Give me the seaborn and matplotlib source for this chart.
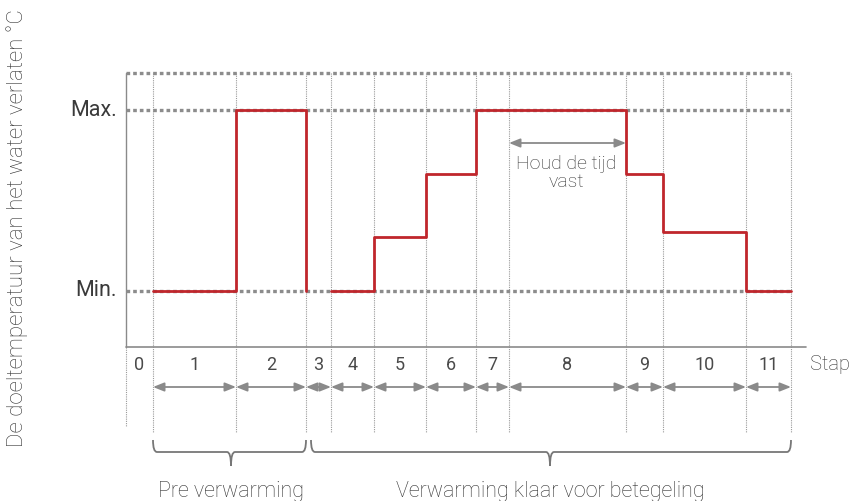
import numpy as np
import pandas as pd
import matplotlib
matplotlib.use("Agg")
import matplotlib.pyplot as plt
from matplotlib.path import Path
from matplotlib.patches import PathPatch
import seaborn as sns

# ---- data -------------------------------------------------------------
# step boundaries on a relative time axis (step 0 starts at 0)
step_edges = [0, 27, 110, 180, 205, 248, 300, 350, 383, 500, 537, 620, 665]
step_labels = ["0", "1", "2", "3", "4", "5", "6", "7", "8", "9", "10", "11"]

# target outlet water temperature per step, as a fraction between Min (0) and Max (1)
# step 3 has no set point; step 2 ends with a drop back to Min
preheat_t = [27, 110, 180]
preheat_level = [0.0, 1.0, 0.0]
ready_t = [205, 248, 300, 350, 383, 500, 537, 620, 665]
ready_level = [0.0, 0.30, 0.645, 1.0, 1.0, 0.645, 0.325, 0.0, 0.0]

level_names = ["Min.", "Max."]
level_values = [0.0, 1.0]

phase_names = ["Pre verwarming", "Verwarming klaar voor betegeling"]
phase_spans = [(27, 180), (185, 665)]
phase_tips = [105, 424]

hold_span = (383, 500)
hold_text = "Houd de tijd\nvast"
y_label = "De doeltemperatuur van het water verlaten °C"

# ---- style ------------------------------------------------------------
sns.set_theme(style="white")
plt.rcParams["font.family"] = ["Roboto", "DejaVu Sans"]
plt.rcParams["font.weight"] = "light"

RED = "#c0262c"
GRID = "#9a9a9a"
DOTS = "#8c8c8c"
TEXT = "#333333"

fig = plt.figure(figsize=(8.54, 5.01), dpi=100)
ax = fig.add_axes([0, 0, 1, 1])
ax.set_axis_off()

# vertical scale: 181 px between Min and Max, Min line 291 px from the top
def vy(py):
    return (291 - py) / 181.0

ax.set_xlim(-126, 854 - 126)
ax.set_ylim(vy(501), vy(0))

frame_top = vy(73)
base = vy(347)
x_end = step_edges[-1]

# ---- red set-point curve ---------------------------------------------
df = pd.DataFrame({
    "t": preheat_t + ready_t,
    "level": preheat_level + ready_level,
    "phase": ["pre"] * len(preheat_t) + ["ready"] * len(ready_t),
})
sns.lineplot(data=df, x="t", y="level", units="phase", estimator=None,
             drawstyle="steps-post", color=RED, lw=2.0, ax=ax, zorder=5,
             legend=False)

# ---- frame & guide lines ---------------------------------------------
for x in step_edges[1:]:
    ax.plot([x, x], [frame_top, vy(432)], color=GRID, lw=0.8,
            ls=(0, (1, 1)), zorder=1)
ax.plot([0, 0], [frame_top, base], color="#8a8a8a", lw=1.0, zorder=2)
ax.plot([0, 0], [base, vy(427)], color=GRID, lw=0.8, ls=(0, (1, 1)), zorder=1)
ax.plot([0, 806 - 126], [base, base], color="#8a8a8a", lw=1.2, zorder=2)

for yv in [frame_top] + level_values:
    ax.plot([0, x_end + 1], [yv, yv], color=DOTS, lw=2.4,
            ls=(0, (1.1, 0.9)), zorder=3)

for name, val in zip(level_names, level_values):
    ax.text(-9, val, name, ha="right", va="center", fontsize=15.5,
            color="#3a3a3a", fontweight="normal")

# ---- step numbers and duration arrows --------------------------------
mids = [(a + b) / 2 for a, b in zip(step_edges[:-1], step_edges[1:])]
for lab, m in zip(step_labels, mids):
    ax.text(m, vy(365), lab, ha="center", va="center", fontsize=13,
            color="#4a4a4a", fontweight="normal")
ax.text(810 - 126, vy(364), "Stap", ha="left", va="center", fontsize=14.5,
        color=TEXT)

arrow_kw = dict(arrowstyle="<|-|>,head_length=0.55,head_width=0.22",
                color="#8a8a8a", lw=1.3, shrinkA=0, shrinkB=0)
for a, b in zip(step_edges[1:-1], step_edges[2:]):
    ax.annotate("", xy=(b, vy(387)), xytext=(a, vy(387)), arrowprops=arrow_kw)

ax.annotate("", xy=(hold_span[1], vy(143)), xytext=(hold_span[0], vy(143)),
            arrowprops=arrow_kw)
ax.text((hold_span[0] + hold_span[1]) / 2 - 1, vy(173), hold_text,
        ha="center", va="center", fontsize=14, color=TEXT, linespacing=1.0)

# ---- phase braces -----------------------------------------------------
def brace(x0, x1, xm, yt, yl, yb, r=4):
    verts = [(x0, yt), (x0, yl), (x0 + r, yl),
             (xm - r, yl), (xm, yl), (xm, yb),
             (xm, yl), (xm + r, yl),
             (x1 - r, yl), (x1, yl), (x1, yt)]
    codes = [Path.MOVETO, Path.CURVE3, Path.CURVE3,
             Path.LINETO, Path.CURVE3, Path.CURVE3,
             Path.CURVE3, Path.CURVE3,
             Path.LINETO, Path.CURVE3, Path.CURVE3]
    ax.add_patch(PathPatch(Path(verts, codes), fill=False,
                           edgecolor="#777777", lw=1.3, zorder=2))

for (x0, x1), xm, name in zip(phase_spans, phase_tips, phase_names):
    brace(x0, x1, xm, vy(440), vy(452), vy(466))
    ax.text(xm, vy(491), name, ha="center", va="center", fontsize=15.5,
            color=TEXT)

# rotated axis title, left of the frame
ax.text(17 - 126, vy(228), y_label, rotation=90, ha="center", va="center",
        fontsize=16, color=TEXT)

fig.savefig("out.png", dpi=100)
